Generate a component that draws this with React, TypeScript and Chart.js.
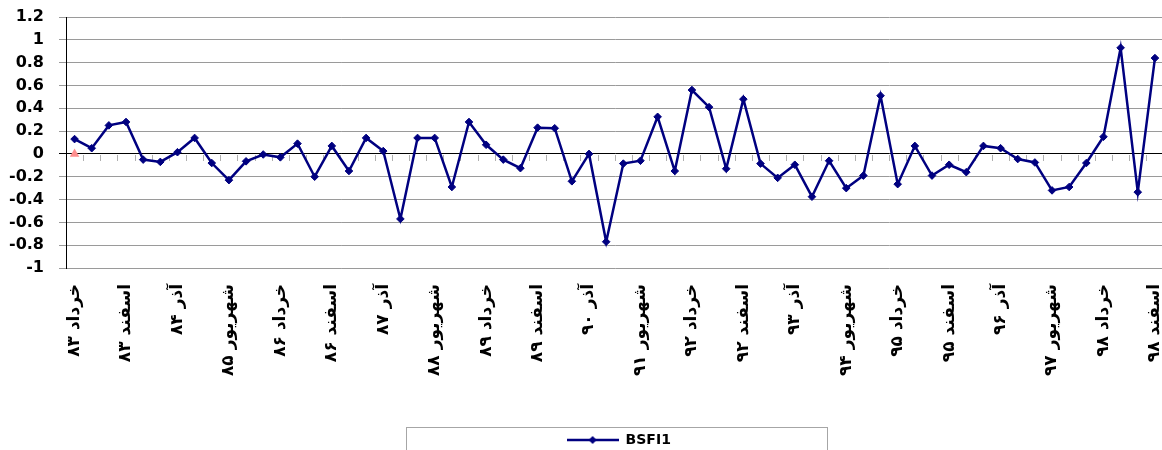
import React, { useEffect, useRef } from "react";
import { Chart, registerables } from "chart.js";

Chart.register(...registerables);

const quarters = ["خرداد", "شهریور", "آذر", "اسفند"];
const years = ["۸۳", "۸۴", "۸۵", "۸۶", "۸۷", "۸۸", "۸۹", "۹۰", "۹۱", "۹۲", "۹۳", "۹۴", "۹۵", "۹۶", "۹۷", "۹۸"];
const categories: string[] = years.flatMap((y) => quarters.map((q) => `${q} ${y}`));

const seriesName = "BSFI1";
const bsfi1 = [
  0.13, 0.05, 0.25, 0.28, -0.05, -0.07, 0.015, 0.14, -0.08, -0.23,
  -0.065, -0.005, -0.03, 0.09, -0.2, 0.07, -0.15, 0.14, 0.025, -0.57,
  0.14, 0.14, -0.29, 0.28, 0.08, -0.05, -0.125, 0.23, 0.225, -0.24,
  0.0, -0.77, -0.085, -0.06, 0.325, -0.15, 0.56, 0.41, -0.13, 0.48,
  -0.085, -0.21, -0.095, -0.375, -0.06, -0.3, -0.19, 0.51, -0.265, 0.07,
  -0.19, -0.095, -0.16, 0.07, 0.05, -0.045, -0.075, -0.32, -0.29, -0.08,
  0.15, 0.93, -0.335, 0.84,
];
const marker0 = [0];

const yMin = -1;
const yMax = 1.2;
const yStep = 0.2;
const labelEvery = 3;

const NAVY = "#000080";

function makeLegendIcon(): HTMLCanvasElement {
  const c = document.createElement("canvas");
  c.width = 52;
  c.height = 10;
  const g = c.getContext("2d")!;
  g.strokeStyle = NAVY;
  g.lineWidth = 2.5;
  g.beginPath();
  g.moveTo(0, 5);
  g.lineTo(52, 5);
  g.stroke();
  g.fillStyle = NAVY;
  g.beginPath();
  g.moveTo(26, 1);
  g.lineTo(30, 5);
  g.lineTo(26, 9);
  g.lineTo(22, 5);
  g.closePath();
  g.fill();
  return c;
}

const zeroTicks = {
  id: "zeroTicks",
  beforeDatasetsDraw(chart: any) {
    const xs = chart.scales.x;
    const ys = chart.scales.y;
    const ctx = chart.ctx;
    const y0 = Math.round(ys.getPixelForValue(0));
    const step = xs.getPixelForValue(1) - xs.getPixelForValue(0);
    ctx.save();
    ctx.strokeStyle = "#b0b0b0";
    ctx.lineWidth = 1;
    ctx.beginPath();
    for (let i = 0; i < categories.length; i++) {
      const px = Math.round(xs.getPixelForValue(i) + step / 2) + 0.5;
      ctx.moveTo(px, y0 + 1);
      ctx.lineTo(px, y0 + 7);
    }
    ctx.stroke();
    ctx.restore();
  },
};

const legendShift = {
  id: "legendShift",
  afterLayout(chart: any) {
    const lg = chart.legend;
    if (!lg) return;
    lg.left += 4;
    lg.right += 4;
  },
};

const legendBorder = {
  id: "legendBorder",
  afterDraw(chart: any) {
    const lg = chart.legend;
    if (!lg || !lg.legendHitBoxes || !lg.legendHitBoxes.length) return;
    const hb = lg.legendHitBoxes[0];
    const cx = (lg.left + lg.right) / 2;
    const ctx = chart.ctx;
    ctx.save();
    ctx.strokeStyle = "#a6a6a6";
    ctx.lineWidth = 1;
    ctx.strokeRect(Math.round(cx - 213) + 0.5, Math.round(hb.top - 6) + 0.5, 421, 40);
    ctx.restore();
  },
};

export default function App() {
  const ref = useRef<HTMLCanvasElement | null>(null);

  useEffect(() => {
    if (!ref.current) return;
    const icon = makeLegendIcon();
    const chart = new Chart(ref.current, {
      type: "line",
      data: {
        labels: categories,
        datasets: [
          {
            label: "marker",
            data: marker0,
            showLine: false,
            pointStyle: "triangle",
            pointRadius: 5.5,
            pointBackgroundColor: "#ff8f8f",
            pointBorderColor: "#ff8f8f",
            pointBorderWidth: 0,
          },
          {
            label: seriesName,
            data: bsfi1,
            borderColor: NAVY,
            backgroundColor: NAVY,
            borderWidth: 2.5,
            pointStyle: "rectRot",
            pointRadius: 3.8,
            pointBackgroundColor: NAVY,
            pointBorderColor: NAVY,
            pointBorderWidth: 1,
            tension: 0,
          },
        ],
      },
      options: {
        animation: false,
        responsive: false,
        maintainAspectRatio: false,
        events: [],
        layout: { padding: { top: 17, left: 0, right: 0, bottom: -7 } },
        plugins: {
          tooltip: { enabled: false },
          legend: {
            display: true,
            position: "bottom",
            fullSize: false,
            labels: {
              usePointStyle: true,
              pointStyleWidth: 52,
              padding: 4,
              color: "#000",
              font: { family: "'DejaVu Sans', sans-serif", size: 14, weight: "bold" },
              generateLabels: () => [
                {
                  text: seriesName,
                  pointStyle: icon as any,
                  fillStyle: NAVY,
                  strokeStyle: NAVY,
                  lineWidth: 0,
                  hidden: false,
                  datasetIndex: 1,
                  fontColor: "#000",
                } as any,
              ],
            },
          },
        },
        scales: {
          x: {
            type: "category",
            offset: true,
            grid: { display: false },
            border: { display: false },
            afterFit: (s: any) => {
              s.height = 161;
              s.paddingLeft = 0;
              s.paddingRight = 0;
            },
            ticks: {
              autoSkip: false,
              minRotation: 90,
              maxRotation: 90,
              padding: 8,
              color: "#000",
              font: { family: "'DejaVu Sans', sans-serif", size: 17, weight: "bold" },
              callback: (_v: any, i: number) => (i % labelEvery === 0 ? categories[i] : ""),
            },
          },
          y: {
            min: yMin,
            max: yMax,
            afterFit: (s: any) => {
              s.width = 66;
              s.paddingTop = 0;
              s.paddingBottom = 0;
            },
            border: { display: true, color: "#000", width: 1 },
            grid: {
              color: (c: any) => (c.tick && Math.abs(c.tick.value) < 1e-9 ? "#000" : "#9a9a9a"),
              lineWidth: 1,
              tickLength: 7,
              drawTicks: true,
            },
            ticks: {
              stepSize: yStep,
              padding: 15,
              color: "#000",
              font: { family: "'DejaVu Sans', sans-serif", size: 16, weight: "bold" },
              callback: (v: any) => String(Math.round(Number(v) * 10) / 10),
            },
          },
        },
      },
      plugins: [zeroTicks, legendShift, legendBorder],
    });
    return () => chart.destroy();
  }, []);

  return (
    <div style={{ position: "fixed", left: 0, top: 0, width: 1162, height: 450, overflow: "hidden", background: "#fff" }}>
      <canvas ref={ref} width={1169} height={450} style={{ width: 1169, height: 450, display: "block" }} />
    </div>
  );
}
